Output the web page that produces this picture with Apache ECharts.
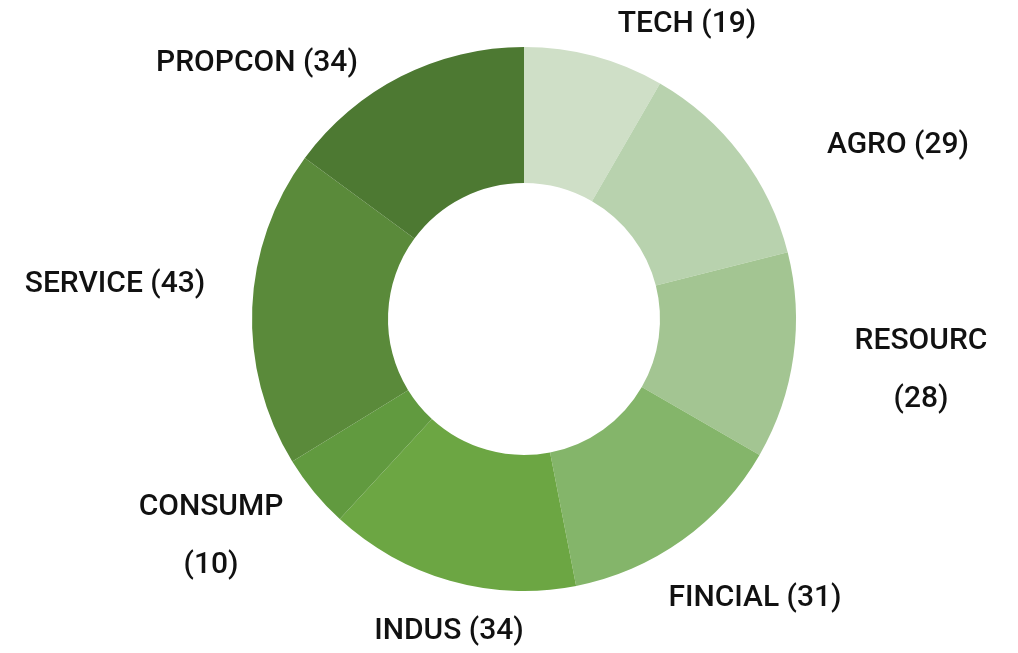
<!DOCTYPE html>
<html>
<head>
<meta charset="utf-8">
<script src="https://cdn.jsdelivr.net/npm/echarts@6/dist/echarts.min.js"></script>
<style>
  html, body { margin: 0; padding: 0; background: #fff; }
  #chart { width: 1018px; height: 653px; }
</style>
</head>
<body>
<div id="chart"></div>
<script>
// sectors, clockwise from 12 o'clock
var sectors = ['TECH', 'AGRO', 'RESOURC', 'FINCIAL', 'INDUS', 'CONSUMP', 'SERVICE', 'PROPCON'];
var counts = [19, 29, 28, 31, 34, 10, 43, 34];

var colors = ['#cfdfc7', '#b8d2ae', '#a3c592', '#84b56a', '#6ca643', '#619a3f', '#5a8a3a', '#4d7932'];
// labels that wrap onto two lines
var wrapped = ['RESOURC', 'CONSUMP'];
// label centres (px)
var labelPos = [[687, 24], [898, 145], [921, 370], [755, 598], [449, 631], [211, 536], [115, 284], [257, 63]];

var chart = echarts.init(document.getElementById('chart'), null, { renderer: 'canvas' });

var data = [];
for (var i = 0; i < sectors.length; i++) {
    data.push({ name: sectors[i], value: counts[i], itemStyle: { color: colors[i] } });
}

chart.setOption({
    animation: false,
    backgroundColor: '#ffffff',
    series: [{
        type: 'pie',
        center: [524, 319],
        radius: [136, 272],
        startAngle: 90,
        clockwise: true,
        avoidLabelOverlap: false,
        itemStyle: { borderWidth: 0 },
        label: {
            show: true,
            position: 'outside',
            fontFamily: 'Roboto',
            fontSize: 30,
            fontWeight: 500,
            color: '#111111',
            lineHeight: 58,
            formatter: function (p) {
                if (wrapped.indexOf(p.name) >= 0) return p.name + '\n(' + p.value + ')';
                return p.name + ' (' + p.value + ')';
            }
        },
        labelLine: { show: false },
        labelLayout: function (params) {
            var pos = labelPos[params.dataIndex];
            return { x: pos[0], y: pos[1], align: 'center', verticalAlign: 'middle' };
        },
        data: data
    }]
});
</script>
</body>
</html>
